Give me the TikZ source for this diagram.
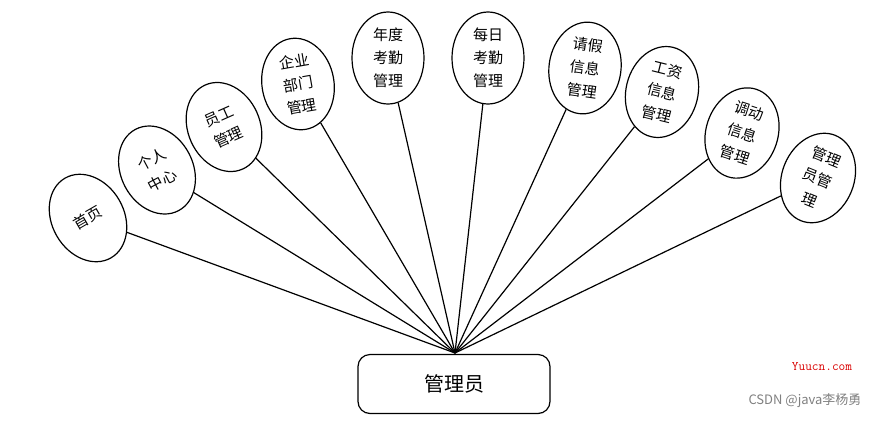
\documentclass[tikz,border=0pt]{standalone}
\usepackage{fontspec}
\newfontfamily\cjk{Noto Sans CJK SC}
\usetikzlibrary{shapes.geometric}
\begin{document}
\begin{tikzpicture}[x=1pt,y=-1pt,
  ell/.style={draw,line width=1.2pt,ellipse,fill=white,minimum width=72pt,minimum height=92pt,inner sep=0pt,align=center,font=\cjk\fontsize{15}{23}\selectfont},
  link/.style={line width=1.2pt}]
\useasboundingbox (0,0) rectangle (896,421);
\coordinate (hub) at (455,353);
\node[ell,rotate=30] (e1) at (88,218) {首页};
\node[ell,rotate=28] (e2) at (157,170) {个人\\中心};
\node[ell,rotate=24] (e3) at (224,127) {员工\\管理};
\node[ell,rotate=10] (e4) at (298,84) {企业\\部门\\管理};
\node[ell,rotate=0] (e5) at (388,58) {年度\\考勤\\管理};
\node[ell,rotate=0] (e6) at (488,58) {每日\\考勤\\管理};
\node[ell,rotate=-8] (e7) at (585,68) {请假\\信息\\管理};
\node[ell,rotate=-14] (e8) at (662,92) {工资\\信息\\管理};
\node[ell,rotate=-18] (e9) at (742,133) {调动\\信息\\管理};
\node[ell,rotate=-22] (e10) at (818,178) {管理\\员管\\理};
\foreach \i in {1,...,10} \draw[link] (e\i) -- (hub);
\node[draw,line width=1.2pt,rounded corners=12pt,minimum width=192pt,minimum height=59pt,fill=white,font=\cjk\fontsize{20}{24}\selectfont] (box) at (454,384) {管理员};
\node[text=red!85!black,font=\fontsize{13}{15}\selectfont\ttfamily] (w1) at (822,367) {Yuucn.com};
\node[text=gray,font=\cjk\fontsize{13}{15}\selectfont] (w2) at (805,401) {CSDN @java李杨勇};
\end{tikzpicture}
\end{document}
